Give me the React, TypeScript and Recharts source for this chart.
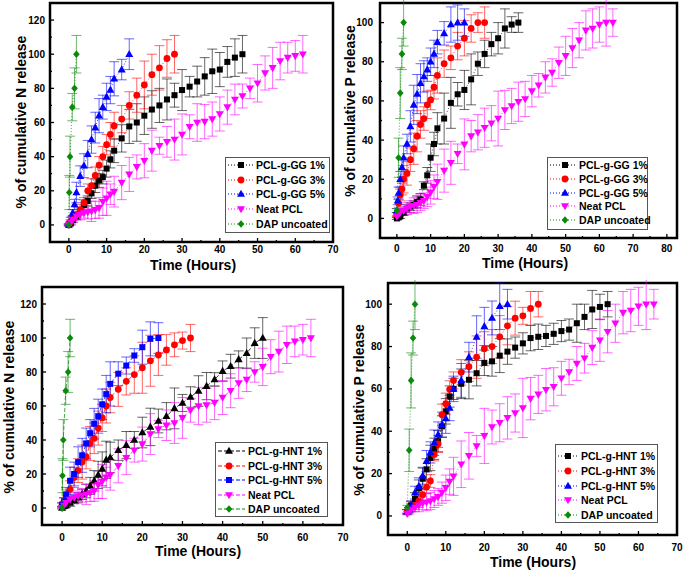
import React from 'react';
import { ScatterChart, Scatter, XAxis, YAxis, ErrorBar, ReferenceArea } from 'recharts';

// ---- top-left: N release, PCL-g-GG ----
const nGG1T = [0, 0.5, 1, 2, 3, 4, 5, 6, 7, 8, 9, 10, 11, 12, 14, 16, 18, 20, 22, 24, 26, 28, 30, 32, 34, 36, 38, 40, 42, 44, 46];
const nGG1Y = [0, 1, 3, 5, 8, 11.7, 14, 18.5, 23, 26, 28, 33, 38.4, 43.5, 50.7, 57.7, 60, 64, 67.6, 70, 73.5, 76, 79, 81, 84, 87, 90, 91, 95.5, 98, 100];
const nGG1E = [0.5, 1, 1.5, 2, 2, 3, 3, 3, 4, 4, 4, 5, 5, 7, 8, 10, 11, 11, 11, 10, 12, 7, 12, 6, 9, 11, 13, 10, 9, 11, 11];

const nGG3T = [0, 0.5, 1, 2, 3, 4, 5, 6, 7, 8, 9, 10, 11, 12, 14, 16, 18, 20, 22, 24, 26, 28];
const nGG3Y = [0, 2, 4, 6, 9, 13, 20, 23, 29, 35, 40, 47, 53, 58, 62, 70, 76, 82, 88, 92, 97.5, 100];
const nGG3E = [0.5, 1, 1.5, 2, 3, 3, 4, 4, 5, 5, 6, 6, 7, 8, 8, 8, 10, 14, 12, 13, 11, 11];

const nGG5T = [0, 0.5, 1, 1.5, 2, 3, 4, 5, 6, 7, 8, 9, 10, 11, 12, 14, 16];
const nGG5Y = [0, 3, 7, 12, 19, 28.6, 34.7, 41.5, 50, 57, 64, 69, 75, 79, 85.6, 91, 100];
const nGG5E = [0.5, 1.5, 2, 3, 6, 6, 7, 8, 8, 9, 10, 7, 8, 8, 10, 6, 9];

// neat PCL and uncoated DAP, nitrogen (same in both N panels)
const neatNT = [0, 0.5, 1, 2, 3, 4, 5, 6, 7, 8, 9, 10, 11, 12, 14, 16, 18, 20, 22, 24, 26, 28, 30, 32, 34, 36, 38, 40, 42, 44, 46, 48, 50, 52, 54, 56, 58, 60, 62];
const neatNY = [0, 1.5, 3, 5, 6, 7, 7.5, 8, 8.8, 10, 13.6, 15.6, 18, 19.5, 24.8, 29.6, 34, 37.6, 43.5, 46.4, 48.7, 50, 53, 57.5, 60, 60.5, 62, 65, 69, 73.5, 75.5, 80, 83, 89, 92, 96, 98, 99, 100];
const neatNE = [0.5, 1, 1.5, 2, 3, 3, 4, 6, 5, 6, 8, 10, 6, 9, 10, 10, 7, 10, 12, 5, 9, 12, 12, 7, 11, 10, 10, 10, 10, 9, 7, 6, 11, 10, 12, 11, 9, 9, 11];

const dapNT = [0, 0.1, 0.3, 0.9, 1.5, 2];
const dapNY = [0, 19, 40, 69, 80, 100];
const dapNE = [0, 10, 12, 8, 12, 11];

// ---- top-right: P release, PCL-g-GG ----
const pGG1T = [0, 0.5, 1, 2, 3, 4, 5, 6, 7, 8, 9, 10, 11, 12, 14, 16, 18, 20, 22, 24, 26, 28, 30, 32, 34, 36];
const pGG1Y = [0, 0.5, 1, 3, 5, 6, 7, 8.5, 9.7, 16.7, 22, 31, 38, 46, 51, 59, 63.4, 65.6, 71, 79, 84, 89, 92, 97, 99, 100];
const pGG1E = [0.5, 0.5, 1, 1.5, 2, 2, 2, 3, 3, 2, 4, 7, 6, 8, 13, 13, 6, 10, 13, 6, 7, 6, 8, 10, 4, 5];

const pGG3T = [0, 0.5, 1, 1.5, 2, 3, 4, 5, 6, 7, 8, 9, 10, 11, 12, 14, 16, 18, 20, 22, 24, 26];
const pGG3Y = [2, 7.7, 12, 15, 20, 23, 30, 35.6, 42, 48, 51, 58, 60.5, 67, 73, 79, 82, 88, 92, 97, 100, 100];
const pGG3E = [1, 2, 3, 3, 7, 6, 6, 8, 8, 7, 6, 7, 5, 6, 9, 7, 6, 7, 9, 7, 5, 8];

const pGG5T = [0, 0.25, 0.5, 1, 1.5, 2, 3, 4, 5, 6, 7, 8, 9, 10, 11, 12, 14, 16, 18, 20];
const pGG5Y = [4, 9, 13, 20, 26, 31, 38, 47, 58, 63.5, 69, 72.5, 76, 80, 84, 90, 94.5, 99, 100, 100];
const pGG5E = [1, 2, 3, 4, 5, 6, 5, 8, 10, 10, 10, 8, 6, 7, 7, 6, 6, 9, 9, 7];

// neat PCL and uncoated DAP, phosphorus
const neatPT = [0, 0.5, 1, 2, 3, 4, 5, 6, 7, 8, 9, 10, 11, 12, 14, 16, 18, 20, 22, 24, 26, 28, 30, 32, 34, 36, 38, 40, 42, 44, 46, 48, 50, 52, 54, 56, 58, 60, 62, 64];
const neatPY = [1, 2, 3, 4, 5, 6, 6.5, 7, 8, 9, 11, 13.3, 16.2, 18.7, 24.4, 28.4, 33, 37.8, 42, 44, 46.3, 48.6, 51, 55.4, 57.4, 59.6, 61, 65, 68, 72, 74.5, 79.5, 83, 87, 91, 96, 97, 99, 100, 100];
const neatPE = [0.5, 1, 1, 2, 3, 3, 4, 4, 4, 4, 5, 6, 6, 9, 11, 11, 5, 13, 8, 9, 10, 9, 14, 10, 9, 10, 9, 8, 6, 8, 7, 8, 10, 10, 9, 10, 10, 9, 12, 7];

const dapPT = [0, 0.5, 1, 1.5, 2];
const dapPY = [4, 31, 64, 84, 100];
const dapPE = [1, 10, 13, 8, 12];

// ---- bottom-left: N release, PCL-g-HNT ----
const nHNT1T = [0, 0.5, 1, 2, 3, 4, 5, 6, 7, 8, 9, 10, 11, 12, 14, 16, 18, 20, 22, 24, 26, 28, 30, 32, 34, 36, 38, 40, 42, 44, 46, 48, 50];
const nHNT1Y = [0, 1, 1.5, 3, 4.5, 6, 8, 10, 13, 16, 19.5, 23, 28.3, 29.7, 34, 37, 40, 44.4, 47.7, 51.2, 54, 58.6, 61.8, 65.3, 68.8, 71.7, 75.6, 80.5, 83.4, 87.4, 91, 97, 100];
const nHNT1E = [0.5, 1, 1, 2, 2, 3, 3, 4, 5, 6, 8, 10, 11, 9, 6, 8, 5, 9, 11, 7, 8, 12, 5, 6, 9, 8, 4, 6, 7, 5, 9, 9, 12];

const nHNT3T = [0, 0.5, 1, 2, 3, 4, 5, 6, 7, 8, 9, 10, 11, 12, 14, 16, 18, 20, 22, 24, 26, 28, 30, 32];
const nHNT3Y = [2, 4, 6.6, 11, 18, 22, 27, 30, 38, 41, 47, 53, 60, 65, 69.8, 74.5, 78.5, 82.5, 86.6, 90, 93, 96, 98.5, 100];
const nHNT3E = [1, 2, 4, 5, 6, 7, 10, 7, 10, 9, 10, 8, 10, 9, 10, 8, 11, 15, 15, 12, 9, 7, 5, 8];

const nHNT5T = [0, 0.5, 1, 2, 3, 4, 5, 6, 7, 8, 9, 10, 11, 12, 14, 16, 18, 20, 22, 24];
const nHNT5Y = [2, 4, 8, 16, 20, 27, 31, 38, 44, 49.6, 54, 61, 67, 73, 79, 83.8, 89.7, 94.6, 99.5, 100];
const nHNT5E = [1, 2, 4, 8, 7, 9, 10, 9, 8, 9, 10, 9, 11, 13, 7, 5, 4, 10, 10, 9];

// ---- bottom-right: P release, PCL-g-HNT ----
const pHNT1T = [0, 0.5, 1, 2, 3, 4, 5, 6, 7, 8, 9, 10, 11, 12, 14, 16, 18, 20, 22, 24, 26, 28, 30, 32, 34, 36, 38, 40, 42, 44, 46, 48, 50, 52];
const pHNT1Y = [2, 3, 5, 8, 13, 17.6, 22, 27.4, 31.7, 35.3, 42.3, 49.4, 56.4, 60, 62.4, 64.3, 67.4, 72.3, 73, 75.7, 77.6, 79.5, 81.5, 84, 84.6, 85, 86, 87.3, 88, 91, 94, 97.5, 98.7, 100];
const pHNT1E = [1, 1, 2, 3, 4, 5, 5, 6, 5, 5, 5, 6, 5, 5, 7, 9, 6, 6, 7, 8, 6, 5, 5, 6, 6, 5, 5, 5, 5, 9, 6, 9, 6, 6];

const pHNT3T = [0, 0.5, 1, 2, 3, 4, 5, 6, 7, 8, 9, 10, 11, 12, 14, 16, 18, 20, 22, 24, 26, 28, 30, 32, 34];
const pHNT3Y = [2, 3, 4, 5, 7, 10, 13.6, 16.5, 29, 34, 47.8, 53, 59.8, 64, 67.8, 70.5, 75, 79, 80, 84.6, 89.8, 93.4, 94.5, 98, 100];
const pHNT3E = [1, 1, 2, 2, 3, 3, 3, 3, 3, 4, 5, 5, 4, 4, 6, 7, 10, 8, 8, 10, 9, 8, 4, 8, 6];

const pHNT5T = [0, 0.5, 1, 2, 3, 4, 5, 6, 7, 8, 9, 10, 11, 12, 14, 16, 18, 20, 22, 24, 26];
const pHNT5Y = [2, 3, 5, 11, 14, 19, 25.9, 30, 34.6, 38.4, 43, 46, 51, 60, 64, 75, 84.5, 89.5, 93.5, 99, 100];
const pHNT5E = [1, 1, 2, 3, 4, 4, 5, 5, 6, 6, 6, 7, 6, 6, 8, 7, 10, 9, 8, 11, 7];

// axis tick labels (minor ticks sit halfway between them)
const ticks70 = [0, 10, 20, 30, 40, 50, 60, 70];
const ticks80 = [0, 10, 20, 30, 40, 50, 60, 70, 80];
const ticks120 = [0, 20, 40, 60, 80, 100, 120];
const ticks100 = [0, 20, 40, 60, 80, 100];

const BLACK = '#000000';
const RED = '#ff0000';
const BLUE = '#0000ff';
const MAGENTA = '#ff00ff';
const GREEN = '#0a8a0a';
const FONT = 'Arial, "Liberation Sans", Helvetica, sans-serif';

type Kind = 'square' | 'circle' | 'up' | 'down' | 'diamond';
type Series = { name: string; t: number[]; y: number[]; e: number[]; color: string; kind: Kind };

const rows = (t: number[], y: number[], e: number[]) => t.map((x, i) => ({ t: x, v: y[i], e: e[i] }));

// majors plus one minor tick between each pair
const withMinor = (major: number[]) => {
  const out: number[] = [];
  major.forEach((m, i) => {
    out.push(m);
    if (i < major.length - 1) out.push((m + major[i + 1]) / 2);
  });
  return out;
};

function Mark({ cx, cy, kind, color }: { cx: number; cy: number; kind: Kind; color: string }) {
  if (cx == null || cy == null || isNaN(cx) || isNaN(cy)) return null;
  if (kind === 'square') return <rect x={cx - 3} y={cy - 3} width={6} height={6} fill={color} />;
  if (kind === 'circle') return <circle cx={cx} cy={cy} r={3.4} fill={color} />;
  if (kind === 'up') return <polygon points={`${cx},${cy - 4.3} ${cx + 4},${cy + 2.8} ${cx - 4},${cy + 2.8}`} fill={color} />;
  if (kind === 'down') return <polygon points={`${cx},${cy + 4.3} ${cx + 4},${cy - 2.8} ${cx - 4},${cy - 2.8}`} fill={color} />;
  return <polygon points={`${cx},${cy - 3.8} ${cx + 3.3},${cy} ${cx},${cy + 3.8} ${cx - 3.3},${cy}`} fill={color} />;
}

const tickFont = { fontSize: 10, fontWeight: 700, fill: '#000', fontFamily: FONT };

// inward tick marks, labels only on the majors
function XTick(props: any) {
  const { x, y, payload, labels, m } = props;
  const axisY = y - m;
  const major = labels.includes(payload.value);
  return (
    <g>
      <line x1={x} x2={x} y1={axisY} y2={axisY - (major ? 4 : 2)} stroke="#000" strokeWidth={1.3} />
      {major && (
        <text x={x} y={y} dy="0.71em" textAnchor="middle" {...tickFont}>
          {payload.value}
        </text>
      )}
    </g>
  );
}

function YTick(props: any) {
  const { x, y, payload, labels, m } = props;
  const axisX = x + m;
  const major = labels.includes(payload.value);
  return (
    <g>
      <line x1={axisX} x2={axisX + (major ? 4 : 2)} y1={y} y2={y} stroke="#000" strokeWidth={1.3} />
      {major && (
        <text x={x} y={y} dy="0.355em" textAnchor="end" {...tickFont}>
          {payload.value}
        </text>
      )}
    </g>
  );
}

type PanelCfg = {
  box: { left: number; top: number; width: number; height: number };
  plot: { left: number; top: number; right: number; bottom: number };
  xDomain: [number, number];
  yDomain: [number, number];
  xTicks: number[];
  yTicks: number[];
  xMargin: number;
  yMargin: number;
  dash: string;
  yTitle: string;
  yTitlePos: [number, number];
  xTitlePos: [number, number];
  legend: { left: number; top: number; width: number; height: number; rowTop: number; gap: number; markX: number; textX: number };
  series: Series[];
};

const panels: PanelCfg[] = [
  {
    box: { left: 0, top: 0, width: 340, height: 275 },
    plot: { left: 50, top: 3, right: 333, bottom: 242 },
    xDomain: [-5, 70], yDomain: [-10, 130], xTicks: ticks70, yTicks: ticks120,
    xMargin: 4, yMargin: 5, dash: '1 2',
    yTitle: '% of cumulative N release', yTitlePos: [21, 122], xTitlePos: [193, 265],
    legend: { left: 225, top: 157, width: 105, height: 76, rowTop: 7, gap: 14.7, markX: 15, textX: 30 },
    series: [
      { name: 'PCL-g-GG 1%', t: nGG1T, y: nGG1Y, e: nGG1E, color: BLACK, kind: 'square' },
      { name: 'PCL-g-GG 3%', t: nGG3T, y: nGG3Y, e: nGG3E, color: RED, kind: 'circle' },
      { name: 'PCL-g-GG 5%', t: nGG5T, y: nGG5Y, e: nGG5E, color: BLUE, kind: 'up' },
      { name: 'Neat PCL', t: neatNT, y: neatNY, e: neatNE, color: MAGENTA, kind: 'down' },
      { name: 'DAP uncoated', t: dapNT, y: dapNY, e: dapNE, color: GREEN, kind: 'diamond' },
    ],
  },
  {
    box: { left: 340, top: 0, width: 345, height: 275 },
    plot: { left: 380, top: 3, right: 677, bottom: 238 },
    xDomain: [-5, 83], yDomain: [-10, 110], xTicks: ticks80, yTicks: ticks100,
    xMargin: 6.5, yMargin: 7, dash: '1 2',
    yTitle: '% of cumulative P release', yTitlePos: [350, 111], xTitlePos: [525, 263],
    legend: { left: 547, top: 157, width: 101, height: 73, rowTop: 7, gap: 13.8, markX: 17, textX: 31 },
    series: [
      { name: 'PCL-g-GG 1%', t: pGG1T, y: pGG1Y, e: pGG1E, color: BLACK, kind: 'square' },
      { name: 'PCL-g-GG 3%', t: pGG3T, y: pGG3Y, e: pGG3E, color: RED, kind: 'circle' },
      { name: 'PCL-g-GG 5%', t: pGG5T, y: pGG5Y, e: pGG5E, color: BLUE, kind: 'up' },
      { name: 'Neat PCL', t: neatPT, y: neatPY, e: neatPE, color: MAGENTA, kind: 'down' },
      { name: 'DAP uncoated', t: dapPT, y: dapPY, e: dapPE, color: GREEN, kind: 'diamond' },
    ],
  },
  {
    box: { left: 0, top: 280, width: 354, height: 292 },
    plot: { left: 42, top: 287, right: 343, bottom: 525 },
    xDomain: [-5, 70], yDomain: [-10, 130], xTicks: ticks70, yTicks: ticks120,
    xMargin: 8.5, yMargin: 5, dash: '4 2',
    yTitle: '% of cumulative N release', yTitlePos: [9, 407], xTitlePos: [198, 551],
    legend: { left: 215, top: 442, width: 113, height: 75, rowTop: 8, gap: 14.5, markX: 13, textX: 32 },
    series: [
      { name: 'PCL-g-HNT 1%', t: nHNT1T, y: nHNT1Y, e: nHNT1E, color: BLACK, kind: 'up' },
      { name: 'PCL-g-HNT 3%', t: nHNT3T, y: nHNT3Y, e: nHNT3E, color: RED, kind: 'circle' },
      { name: 'PCL-g-HNT 5%', t: nHNT5T, y: nHNT5Y, e: nHNT5E, color: BLUE, kind: 'square' },
      { name: 'Neat PCL', t: neatNT, y: neatNY, e: neatNE, color: MAGENTA, kind: 'down' },
      { name: 'DAP uncoated', t: dapNT, y: dapNY, e: dapNE, color: GREEN, kind: 'diamond' },
    ],
  },
  {
    box: { left: 345, top: 280, width: 340, height: 292 },
    plot: { left: 388, top: 283, right: 677, bottom: 535 },
    xDomain: [-5, 70], yDomain: [-9, 110], xTicks: ticks70, yTicks: ticks100,
    xMargin: 8.5, yMargin: 6, dash: '1 2',
    yTitle: '% of cumulative P release', yTitlePos: [359, 410], xTitlePos: [533, 562],
    legend: { left: 555, top: 444, width: 103, height: 79, rowTop: 11, gap: 14.75, markX: 12, textX: 25 },
    series: [
      { name: 'PCL-g-HNT 1%', t: pHNT1T, y: pHNT1Y, e: pHNT1E, color: BLACK, kind: 'square' },
      { name: 'PCL-g-HNT 3%', t: pHNT3T, y: pHNT3Y, e: pHNT3E, color: RED, kind: 'circle' },
      { name: 'PCL-g-HNT 5%', t: pHNT5T, y: pHNT5Y, e: pHNT5E, color: BLUE, kind: 'up' },
      { name: 'Neat PCL', t: neatPT, y: neatPY, e: neatPE, color: MAGENTA, kind: 'down' },
      { name: 'DAP uncoated', t: dapPT, y: dapPY, e: dapPE, color: GREEN, kind: 'diamond' },
    ],
  },
];

function Panel({ cfg }: { cfg: PanelCfg }) {
  const { box, plot, legend } = cfg;
  const xAxisH = 20;
  const margin = {
    top: plot.top - box.top,
    right: box.left + box.width - plot.right,
    bottom: box.top + box.height - plot.bottom - xAxisH,
    left: 0,
  };
  return (
    <>
      <div style={{ position: 'absolute', left: box.left, top: box.top }}>
        <ScatterChart width={box.width} height={box.height} margin={margin}>
          <XAxis
            type="number" dataKey="t" domain={cfg.xDomain} ticks={withMinor(cfg.xTicks)} allowDataOverflow
            height={xAxisH} axisLine={false} tickLine={false} tickSize={0} tickMargin={cfg.xMargin} interval={0}
            tick={(p: any) => <XTick {...p} labels={cfg.xTicks} m={cfg.xMargin} />}
          />
          <YAxis
            type="number" dataKey="v" domain={cfg.yDomain} ticks={withMinor(cfg.yTicks)} allowDataOverflow
            width={plot.left - box.left} axisLine={false} tickLine={false} tickSize={0} tickMargin={cfg.yMargin} interval={0}
            tick={(p: any) => <YTick {...p} labels={cfg.yTicks} m={cfg.yMargin} />}
          />
          {cfg.series.map((s) => (
            <Scatter
              key={s.name}
              name={s.name}
              data={rows(s.t, s.y, s.e)}
              fill={s.color}
              line={{ stroke: s.color, strokeWidth: 1, strokeDasharray: cfg.dash, strokeOpacity: 0.75 }}
              lineType="joint"
              shape={(p: any) => <Mark cx={p.cx} cy={p.cy} kind={s.kind} color={s.color} />}
              isAnimationActive={false}
            >
              <ErrorBar dataKey="e" direction="y" width={5} stroke={s.color} strokeWidth={1} strokeOpacity={0.6} />
            </Scatter>
          ))}
          <ReferenceArea
            x1={cfg.xDomain[0]} x2={cfg.xDomain[1]} y1={cfg.yDomain[0]} y2={cfg.yDomain[1]}
            fill="none" fillOpacity={0} stroke="#000" strokeWidth={2.5} ifOverflow="visible"
          />
        </ScatterChart>
      </div>
      <div
        style={{
          position: 'absolute', left: cfg.yTitlePos[0], top: cfg.yTitlePos[1],
          transform: 'translate(-50%, -50%) rotate(-90deg)', whiteSpace: 'nowrap',
          fontSize: 14, fontWeight: 700, fontFamily: FONT,
        }}
      >
        {cfg.yTitle}
      </div>
      <div
        style={{
          position: 'absolute', left: cfg.xTitlePos[0], top: cfg.xTitlePos[1],
          transform: 'translate(-50%, -50%)', whiteSpace: 'nowrap',
          fontSize: 14, fontWeight: 700, fontFamily: FONT,
        }}
      >
        Time (Hours)
      </div>
      <div
        style={{
          position: 'absolute', left: legend.left, top: legend.top, width: legend.width, height: legend.height,
          border: '1px solid #555', background: '#fff', boxSizing: 'border-box',
        }}
      >
        {cfg.series.map((s, i) => (
          <div
            key={s.name}
            style={{
              position: 'absolute', left: 0, top: legend.rowTop + i * legend.gap - 7, height: 14,
              display: 'flex', alignItems: 'center',
            }}
          >
            <svg width={legend.textX} height={14} style={{ display: 'block' }}>
              <line x1={2} x2={legend.textX - 3} y1={7} y2={7} stroke={s.color} strokeWidth={1} strokeDasharray={cfg.dash} />
              <Mark cx={legend.markX} cy={7} kind={s.kind} color={s.color} />
            </svg>
            <span style={{ fontSize: 10.5, fontWeight: 700, fontFamily: FONT, whiteSpace: 'nowrap', lineHeight: '14px' }}>
              {s.name}
            </span>
          </div>
        ))}
      </div>
    </>
  );
}

export default function App() {
  return (
    <div style={{ position: 'absolute', left: 0, top: 0, width: 685, height: 572, background: '#fff', fontFamily: FONT }}>
      {panels.map((p, i) => (
        <Panel key={i} cfg={p} />
      ))}
    </div>
  );
}
